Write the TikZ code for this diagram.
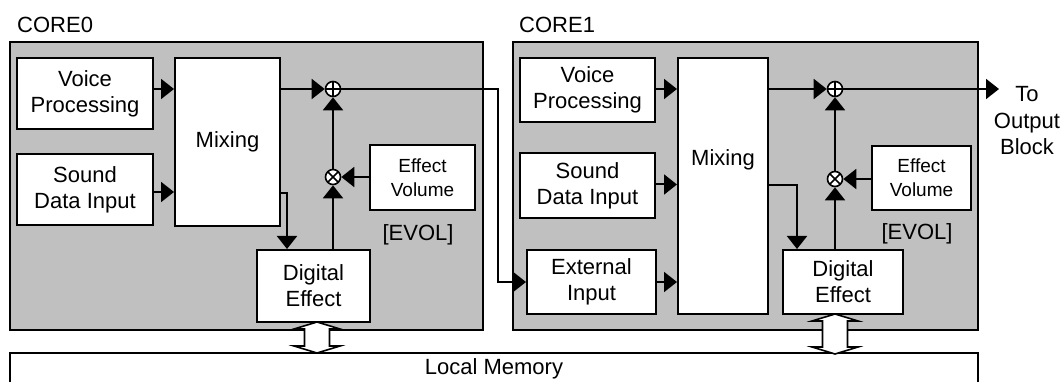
\documentclass[tikz,border=0pt]{standalone}
\usepackage{fontspec}
\setmainfont{Liberation Sans}
\usetikzlibrary{arrows.meta,calc}
\definecolor{coregray}{HTML}{C0C0C0}
\newcommand\memlink[3]{%
  \draw[hollowarrow] (#1,#2) -- (#1+23,#2+7) -- (#1+12.5,#2+7) -- (#1+12.5,#3-7) -- (#1+23,#3-7) -- (#1,#3)
    -- (#1-23,#3-7) -- (#1-12.5,#3-7) -- (#1-12.5,#2+7) -- (#1-23,#2+7) -- cycle;}
\begin{document}
\begin{tikzpicture}[x=1pt,y=-1pt,
  bigfont/.style={font=\fontsize{22}{26}\selectfont},
  smallfont/.style={font=\fontsize{19}{24}\selectfont},
  box/.style={draw, line width=2pt, fill=white, inner sep=0pt, align=center, bigfont},
  corebox/.style={draw, line width=2pt, fill=coregray, inner sep=0pt},
  conn/.style={line width=2pt},
  arr/.style={conn, -{Triangle[length=13pt,width=20pt]}},
  hollowarrow/.style={draw, fill=white, line width=1.6pt, line join=miter},
  plusc/.style={circle, draw, fill=white, line width=1.6pt, minimum size=15pt, inner sep=0pt,
    path picture={\draw[line width=1.5pt] (path picture bounding box.north) -- (path picture bounding box.south)
      (path picture bounding box.west) -- (path picture bounding box.east);}},
  multc/.style={circle, draw, fill=white, line width=1.6pt, minimum size=15pt, inner sep=0pt,
    path picture={\draw[line width=1.5pt] (path picture bounding box.north west) -- (path picture bounding box.south east)
      (path picture bounding box.north east) -- (path picture bounding box.south west);}},
  lbl/.style={inner sep=0pt, align=center, bigfont}
]
\useasboundingbox[fill=white] (0,0) rectangle (1061,382);

% core frames
\node[corebox, minimum width=473pt, minimum height=288pt] (core0) at (246.5,186) {};
\node[corebox, minimum width=465pt, minimum height=288pt] (core1) at (745.5,186) {};
\node[lbl, anchor=west] (core0lbl) at (17,25) {CORE0};
\node[lbl, anchor=west] (core1lbl) at (519,25) {CORE1};

% local memory
\node[box, minimum width=968pt, minimum height=32pt] (mem) at (494,369) {Local Memory};

% CORE0 blocks
\node[box, minimum width=136pt, minimum height=71pt] (vp0) at (85,93.5) {Voice\\Processing};
\node[box, minimum width=136pt, minimum height=71pt] (sdi0) at (85,189.5) {Sound\\Data Input};
\node[box, minimum width=105pt, minimum height=168pt] (mix0) at (227.5,142) {Mixing};
\node[box, smallfont, minimum width=105pt, minimum height=65pt] (ev0) at (422.5,177.5) {Effect\\Volume};
\node[box, minimum width=113pt, minimum height=72pt] (de0) at (313.5,286) {Digital\\Effect};
\node[lbl] (evol0) at (418,235) {[EVOL]};
\node[plusc] (plus0) at (333,89) {};
\node[multc] (mult0) at (333,177) {};

% CORE1 blocks
\node[box, minimum width=135pt, minimum height=64pt] (vp1) at (587.5,90) {Voice\\Processing};
\node[box, minimum width=135pt, minimum height=65pt] (sdi1) at (587.5,185.5) {Sound\\Data Input};
\node[box, minimum width=129pt, minimum height=64pt] (ext1) at (591.5,282) {External\\Input};
\node[box, minimum width=90pt, minimum height=256pt, label={[bigfont, yshift=26pt]center:Mixing}] (mix1) at (723,186) {};
\node[box, smallfont, minimum width=99pt, minimum height=64pt] (ev1) at (921.5,178) {Effect\\Volume};
\node[box, minimum width=120pt, minimum height=64pt] (de1) at (843,282) {Digital\\Effect};
\node[lbl] (evol1) at (917,234) {[EVOL]};
\node[plusc] (plus1) at (835,89) {};
\node[multc] (mult1) at (835,179) {};

\node[lbl, font=\fontsize{22}{26.5}\selectfont] (outlbl) at (1027,121) {To\\Output\\Block};

% helper coordinates
\coordinate (j0) at (498,89);
\coordinate (k0) at (287,193);
\coordinate (k1) at (797,185);
\coordinate (out) at (999,89);

% CORE0 connectors
\draw[arr] (vp0.east |- plus0) -- (mix0.west |- plus0);
\draw[arr] ([yshift=-2.5pt]sdi0.east) -- ([yshift=-2.5pt]sdi0.east -| mix0.west);
\draw[arr] (mix0.east |- plus0) -- (plus0.west);
\draw[arr] (k0 -| mix0.east) -- (k0) -- (k0 |- de0.north);
\draw[arr] (mult0 |- de0.north) -- (mult0.south);
\draw[arr] (mult0.north) -- (plus0.south);
\draw[arr] (ev0.west |- mult0) -- (mult0.east);
\draw[arr] (plus0.east) -- (j0) |- (ext1.west);

% CORE1 connectors
\draw[arr] (vp1.east |- plus1) -- (mix1.west |- plus1);
\draw[arr] ([yshift=1pt]sdi1.east) -- ([yshift=1pt]sdi1.east -| mix1.west);
\draw[arr] (ext1.east) -- (ext1.east -| mix1.west);
\draw[arr] (mix1.east |- plus1) -- (plus1.west);
\draw[arr] (k1 -| mix1.east) -- (k1) -- (k1 |- de1.north);
\draw[arr] (mult1 |- de1.north) -- (mult1.south);
\draw[arr] (mult1.north) -- (plus1.south);
\draw[arr] (ev1.west |- mult1) -- (mult1.east);
\draw[arr] (plus1.east) -- (out);

% memory links
\memlink{317}{322}{353}
\memlink{835}{314}{354}
\end{tikzpicture}
\end{document}
